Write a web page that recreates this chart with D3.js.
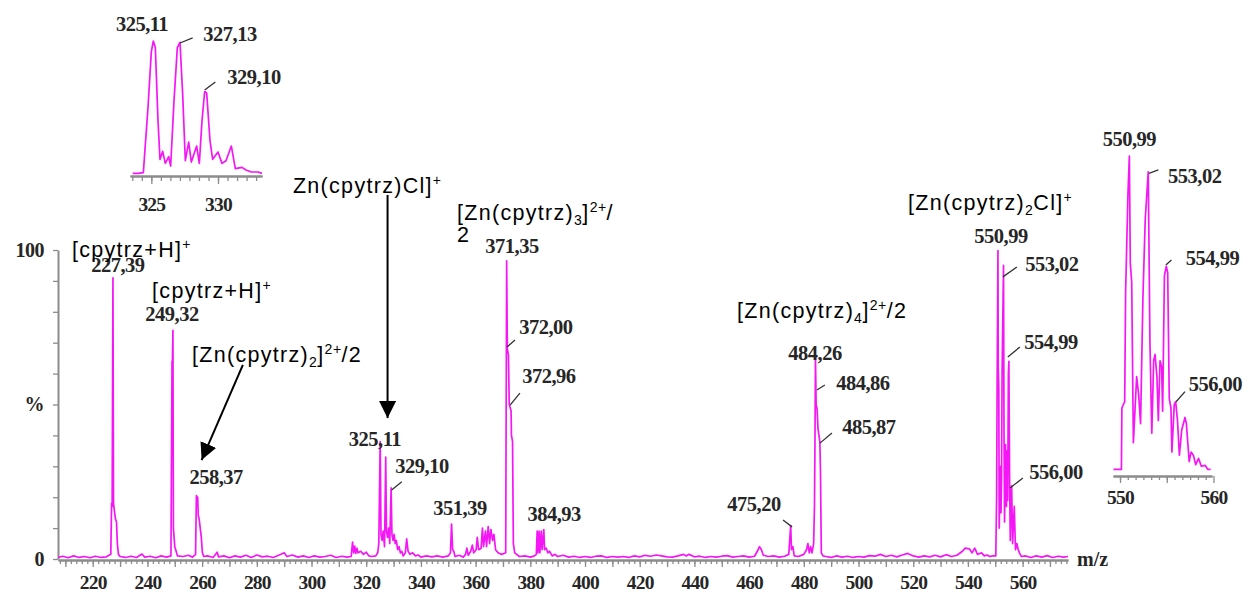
<!DOCTYPE html>
<html><head><meta charset="utf-8">
<script src="https://cdn.jsdelivr.net/npm/d3@7"></script>
<style>
body{margin:0;background:#fff;}
svg{display:block;}
.num{font-family:"Liberation Serif","Times New Roman",serif;font-weight:bold;fill:#262626;}
.sans{font-family:"Liberation Sans",Arial,Helvetica,sans-serif;fill:#000;}
</style></head><body>
<svg id="c" width="1253" height="594"></svg>
<script>
// ---------- DATA ----------
const mainSpectrum = [[207.3,0.5],[209,0.9],[211,0.4],[213,1.0],[215,0.5],[217,0.8],[219,0.4],[221,0.9],[223,0.5],[225,0.7],
[226.6,1.5],[226.9,18],[227.1,17],[227.39,91],[227.6,18],[228.0,15],[228.3,13],[228.7,12],[229.0,5],[229.4,1.5],[230,0.8],
[232,0.5],[234,0.9],[236,0.5],[238,1.6],[239,0.6],[241,0.9],[243,0.4],[245,1.0],[247,0.6],
[248.6,1],[249.0,64],[249.1,62],[249.32,74],[249.5,10],[250.0,4],[250.5,2.5],[251,1],[253,0.8],[255,1.2],[256.5,0.6],
[257.6,1.5],[257.9,20.5],[258.1,19],[258.37,20],[258.6,14],[258.9,13],[259.3,10],[259.7,7],[260.1,2],[260.6,0.8],
[262,1],[264,0.5],[265.5,2.2],[266,0.7],[268,1.0],[270,0.4],[272,1.0],[274,0.6],[276,1.2],[278,0.5],[280,1.3],[282,0.7],[284,0.9],[286,0.5],[288,1.2],[290,2.0],[291,0.8],[293,1.3],[295,0.6],[297,1.0],[299,0.5],[301,1.0],[303,0.6],[305,0.8],[307,1.2],[309,0.5],[311,0.9],[313,0.6],[314.5,0.8],
[315,5.5],[315.4,2],[315.8,4.2],[316.2,1.8],[316.6,3.5],[317,2],[318,2.5],[319,1.5],[320,2.2],[321,1],[322,0.8],[323.5,1],[324.2,2],
[324.6,5],[325.11,38],[325.4,8],[325.8,6],[326.2,9],[326.7,4],[327.13,33],[327.4,9],[327.8,7],[328.2,10],[328.6,5],[329.1,23],[329.4,8],[329.8,6],[330.2,8],[330.6,5],[331,6],[331.5,3],[332,4],[332.5,2],[333,2.5],[333.5,1],[334.3,2],[334.8,6.5],[335.3,2.5],[336,1.5],[337,2],[338,1],[339,1.3],[340,0.6],[342,1],[344,0.7],[346,1.0],[348,0.6],[350,1.0],
[350.8,2],[351.2,11.3],[351.6,3],[352,2.5],[352.5,0.8],[354,1.2],[355.5,0.6],[356.3,1.5],[356.8,3.5],[357.3,1.2],[358.2,2.5],[358.8,4.5],[359.3,2],[360.2,3],[360.6,7],[361.1,3],[362.0,3.5],[362.5,10],[362.9,4],[363.6,9],[364.0,4],[364.6,10.5],[365.1,5],[365.6,9.5],[366.2,6],[366.7,8],[367.3,3],[368.2,2],[369.5,1.5],
[371.0,2],[371.35,96.5],[371.6,68],[372.0,66],[372.3,50],[372.96,48],[373.1,40],[373.5,38],[373.8,5],[374.3,2],[375,1.5],[376,0.8],[378,1.0],[380,0.6],[381.5,1],
[382.2,1.5],[382.5,9],[382.8,2],[383.2,9],[383.5,2],[384.0,9],[384.3,3],[384.93,9.5],[385.2,3],[385.8,3.5],[386.4,2],[387,2.5],[388,1],[389,1.5],[390,0.8],
[392,1.2],[394,0.6],[396,0.9],[398,0.5],[400,0.8],[402,0.5],[404,0.9],[406,1.0],[408,0.5],[410,0.8],[412,0.6],[414,0.8],[416,0.5],[418,1.0],[420,0.7],[422,1.2],[424,0.9],[426,1.3],[428,1.0],[430,0.7],[432,0.6],[434,1.0],[436,1.5],[437,1.0],[438,1.5],[440,0.7],[442,0.9],[444,0.5],[446,0.8],[448,0.6],[450,0.9],[452,1.1],[454,0.6],[456,0.8],[458,1.0],[460,0.6],[462,0.9],
[463,2.5],[463.8,4],[464.5,3],[465.2,1.2],[467,0.8],[469,1],[471,0.6],[473,0.9],[474.5,1.5],[475.2,10.8],[475.5,3],[476,4],[476.5,1],[478,0.8],[480,1.5],[481,3],[481.5,5],[482,2],[482.5,4],[483,2],[483.6,5],[483.9,17],[484.1,40],[484.26,65.4],[484.5,50],[484.86,48.5],[485.2,42],[485.87,38],[486.1,28],[486.4,2],[487,1],[488,0.8],[490,0.5],[492,1],[494,0.6],[496,0.9],[498,0.5],[500,0.8],[502,0.6],[504,1.1],[506,0.9],[508,1.5],[510,0.8],[512,1.2],[514,0.7],[516,1.3],[518,1.8],[520,1.0],[522,0.6],[524,1.0],[526,0.7],[528,1.2],[530,0.7],[532,1.4],[534,0.8],[536,1.2],[538,2.5],[539,3.5],[540.5,3.3],[541.5,2],[542.5,3.5],[543.5,1.5],[545,2],[546,1],[547,1.3],[548,0.8],[549,1],[549.8,1],
[550.2,1],[550.5,20],[550.7,58],[550.99,99.8],[551.1,62],[551.3,55],[551.45,10],[551.8,30],[552.1,15],[552.3,26],[552.5,60],[553.02,95],[553.2,41],[553.4,12],[553.75,37],[554.1,17],[554.3,35],[554.55,19],[554.8,60],[554.99,64],[555.27,23],[555.5,6],[555.9,22],[556.0,23.7],[556.35,5],[556.95,17],[557.4,3],[557.9,5],[558.4,3],[559.1,1.5],[559.6,0.8],[561,1],[563,0.5],[565,1.0],[567,0.6],[569,1.1],[571,0.5],[573,0.9],[575,0.6],[576.6,0.8]];

const inset325 = [[323.6,0.5],[324.0,0.5],[324.4,1],[324.75,50],[325.0,92],[325.15,100],[325.3,95],[325.5,40],[325.65,11],[325.85,17],[326.05,8],[326.3,13],[326.45,6],[326.7,55],[326.95,95],[327.15,99],[327.35,60],[327.55,10],[327.8,24],[328.0,9],[328.4,21],[328.6,8],[328.8,40],[329.0,62],[329.15,61],[329.4,25],[329.6,11],[330.0,16.5],[330.3,8],[330.6,10],[331.0,21],[331.3,4],[331.8,5],[332.1,3],[332.5,1.5],[333.0,1.5],[333.3,0.5]];

const inset551 = [[549.3,0.5],[550.15,0.5],[550.2,20],[550.5,22],[550.6,57],[550.85,88],[551.0,100],[551.1,66],[551.25,60],[551.43,9],[551.78,30],[552.0,24],[552.2,15],[552.45,55],[552.7,80],[553.02,95],[553.2,41],[553.4,12],[553.6,35],[553.75,37],[553.95,30],[554.1,16],[554.28,35],[554.45,33],[554.56,19],[554.75,62],[554.95,65],[555.1,63],[555.27,23],[555.45,20],[555.55,6],[555.8,21],[555.95,22],[556.15,16],[556.35,5],[556.6,13],[556.95,17],[557.1,15],[557.4,3],[557.6,6],[557.85,5],[558.1,2],[558.4,4],[558.7,1.5],[559.1,1.8],[559.4,0.5],[559.7,0.5]];

const mainTickLabels = [220,240,260,280,300,320,340,360,380,400,420,440,460,480,500,520,540,560];
const yTickLabels = {0:"0",50:"%",100:"100"};
const inset325TickLabels = [325,330];
const inset551TickLabels = [550,560];

// peak labels: text, anchor (m/z, intensity) of label, optional leader [mz1,i1,mz2,i2]
const mainPeakLabels = [
 ["227,39",229.2,92.9],["249,32",249.0,77.0],["258,37",265.1,24.3],["325,11",323.2,36.6],
 ["329,10",340.4,27.8,[329.3,22.3,333.0,25.0]],["351,39",354.3,14.2],["371,35",373.3,99.0],
 ["372,00",385.7,72.8,[371.5,68.6,374.4,70.9]],["372,96",386.8,57.0,[372.6,49.8,376.2,53.7]],
 ["384,93",388.7,12.3],["475,20",461.8,15.5,[472.4,12.6,475.7,10.4]],["484,26",484.1,64.4],
 ["484,86",501.6,54.7,[484.8,54.7,487.7,56.3]],["485,87",503.8,40.5,[485.9,37.5,490.3,40.8]],
 ["550,99",552.1,102.3],["553,02",570.7,93.2,[552.8,91.3,557.9,94.5]],
 ["554,99",570.4,68.0,[554.6,65.4,559.0,68.6]],["556,00",572.2,25.9,[555.4,23.0,560.1,26.2]]
];
const inset325Labels = [["325,11",324.3,107.5],["327,13",330.9,100,[327.15,98.5,328.1,102.3]],["329,10",332.7,67.7,[329.0,63.2,329.8,69.2]]];
const inset551Labels = [["550,99",551.0,103.2],["553,02",558.0,91.4,[553.1,94.5,554.1,95.6]],["554,99",559.9,65.4,[554.9,65.4,555.5,67.0]],["556,00",560.2,25.4,[556.0,22,556.95,25.2]]];

// ion assignments: parts, anchor (m/z, intensity) of text start/baseline
const ionLabels = [
 {parts:[["[cpytrz+H]",""],["+","sup"]], mz:212.4, i:97.7},
 {parts:[["[cpytrz+H]",""],["+","sup"]], mz:241.7, i:84.5},
 {parts:[["[Zn(cpytrz)",""],["2","sub"],["]",""],["2+","sup"],["/2",""]], mz:256.3, i:63.8},
 {parts:[["Zn(cpytrz)Cl]",""],["+","sup"]], mz:293.2, i:118.4},
 {parts:[["[Zn(cpytrz)",""],["3","sub"],["]",""],["2+","sup"],["/",""]], mz:353.2, i:109.7},
 {parts:[["2",""]], mz:353.2, i:102.6},
 {parts:[["[Zn(cpytrz)",""],["4","sub"],["]",""],["2+","sup"],["/2",""]], mz:455.6, i:78.0},
 {parts:[["[Zn(cpytrz)",""],["2","sub"],["Cl]",""],["+","sup"]], mz:518.1, i:112.9}
];
const arrows = [[327.8,117.8,327.8,45.6],[274.9,62.8,259.8,32.0]];

// ---------- DRAW ----------
const svg = d3.select("#c");
const MAG = "#f516f5", AX = "#8c8c8c";

const defs = svg.append("defs");
defs.append("marker").attr("id","ah").attr("viewBox","0 0 10 10").attr("refX",10).attr("refY",5)
  .attr("markerWidth",17).attr("markerHeight",17).attr("markerUnits","userSpaceOnUse")
  .attr("orient","auto").append("path").attr("d","M0,0L10,5L0,10Z").attr("fill","#000");

function drawPanel(g, data, x, y, axisY, minorStep, majorVals, labelVals, tickLen, labPad, labels) {
  const minorTicks = d3.range(Math.ceil(x.domain()[0]/minorStep)*minorStep, x.domain()[1], minorStep);
  const axMinor = g.append("g").attr("transform",`translate(0,${axisY})`)
    .call(d3.axisBottom(x).tickValues(minorTicks).tickSize(tickLen[0]).tickSizeOuter(0).tickFormat(""));
  const axMajor = g.append("g").attr("transform",`translate(0,${axisY})`)
    .call(d3.axisBottom(x).tickValues(majorVals).tickSize(tickLen[1]).tickSizeOuter(0).tickPadding(labPad).tickFormat(d => labelVals.includes(d)? d3.format("d")(d) : ""));
  [axMinor, axMajor].forEach(a => {
    a.selectAll("path,line").attr("stroke",AX).attr("stroke-width",1.3);
    a.select(".domain").attr("stroke-width",2);
    a.selectAll("text").attr("class","num").attr("font-size","19.5px").attr("letter-spacing","-0.8px");
  });
  g.append("path").datum(data).attr("fill","none").attr("stroke",MAG).attr("stroke-width",1.7)
    .attr("stroke-linejoin","round")
    .attr("d", d3.line().x(d=>x(d[0])).y(d=>y(d[1])));
  labels.forEach(l => {
    g.append("text").attr("class","num").attr("font-size","20.5px").attr("letter-spacing","-0.5px")
      .attr("text-anchor","middle").attr("x",x(l[1])).attr("y",y(l[2])).text(l[0]);
    if (l[3]) g.append("line").attr("x1",x(l[3][0])).attr("y1",y(l[3][1])).attr("x2",x(l[3][2])).attr("y2",y(l[3][3]))
      .attr("stroke","#333").attr("stroke-width",1.3);
  });
}

// main
const x = d3.scaleLinear().domain([207.3,576.6]).range([58,1068]);
const y = d3.scaleLinear().domain([0,100]).range([559,250]);
const gMain = svg.append("g");
const yAx = gMain.append("g").attr("transform","translate(58,0)")
  .call(d3.axisLeft(y).tickValues(d3.range(0,101,10)).tickSize(5).tickSizeOuter(0).tickPadding(9)
  .tickFormat(d => yTickLabels[d] || ""));
yAx.selectAll("path,line").attr("stroke",AX).attr("stroke-width",1.3);
yAx.select(".domain").attr("stroke-width",2);
yAx.selectAll("text").attr("class","num").attr("font-size","20px").attr("letter-spacing","-0.5px");
drawPanel(gMain, mainSpectrum, x, y, 560, 2, d3.range(210,577,10), mainTickLabels, [4,7], 8, mainPeakLabels);
gMain.append("text").attr("class","num").attr("font-size","20px").attr("x",x.range()[1]+9).attr("y",566).text("m/z");

// inset 325
const x1 = d3.scaleLinear().domain([323.4,333.3]).range([130,262]);
const y1 = d3.scaleLinear().domain([0,100]).range([174,41]);
drawPanel(svg.append("g"), inset325, x1, y1, 176, 5/7, [325,330], inset325TickLabels, [5,8], 13, inset325Labels);

// inset 551
const x2 = d3.scaleLinear().domain([549.25,559.84]).range([1113,1212]);
const y2 = d3.scaleLinear().domain([0,100]).range([471,156]);
drawPanel(svg.append("g"), inset551, x2, y2, 476, 5/6, [550,555,560], inset551TickLabels, [4,7], 7, inset551Labels);

// ion labels
ionLabels.forEach(l => {
  const t = svg.append("text").attr("class","sans").attr("font-size","21.5px").attr("letter-spacing","1.3px")
    .attr("x", x(l.mz)).attr("y", y(l.i));
  let shift = 0;
  l.parts.forEach(([s,k]) => {
    const target = k==="sub" ? 5 : k==="sup" ? -8 : 0;
    t.append("tspan").attr("dy", target - shift).attr("font-size", k ? "14px" : null)
      .attr("letter-spacing", k ? "0.5px" : null).text(s);
    shift = target;
  });
});
arrows.forEach(a => {
  svg.append("line").attr("x1",x(a[0])).attr("y1",y(a[1])).attr("x2",x(a[2])).attr("y2",y(a[3]))
    .attr("stroke","#000").attr("stroke-width",2).attr("marker-end","url(#ah)");
});
</script>
</body></html>
